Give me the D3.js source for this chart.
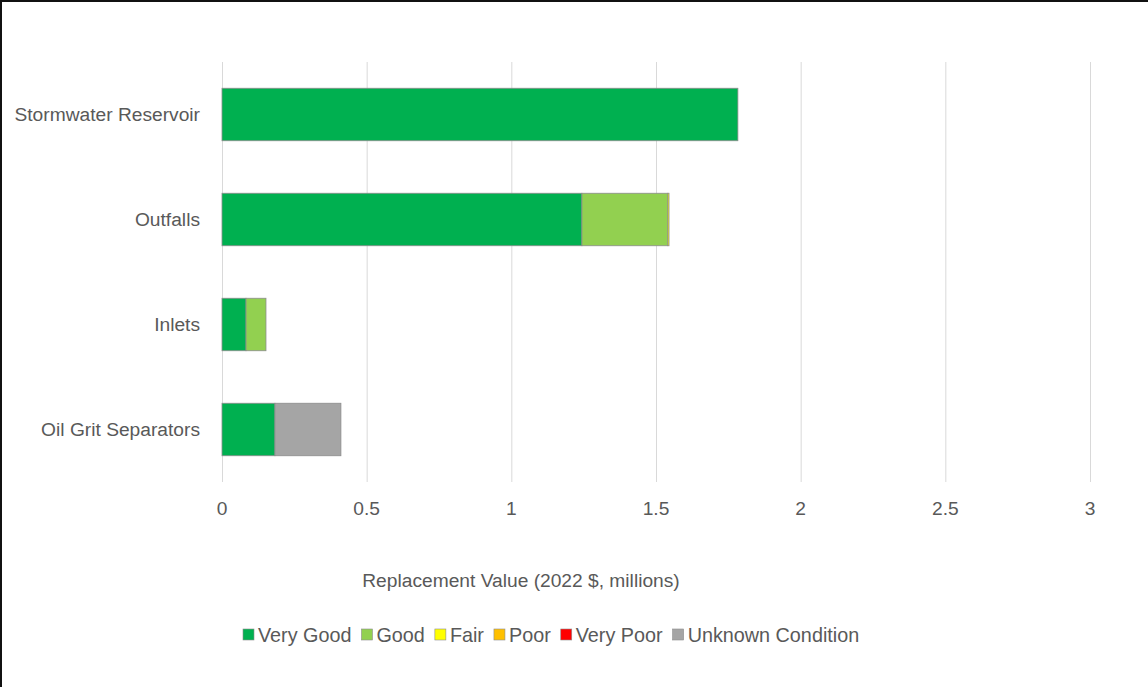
<!DOCTYPE html>
<html>
<head>
<meta charset="utf-8">
<script src="https://cdn.jsdelivr.net/npm/d3@7"></script>
<style>
  html, body { margin: 0; padding: 0; background: #fff; }
  svg { display: block; }
  text { font-family: "Liberation Sans", Arial, sans-serif; fill: #595959; }
</style>
</head>
<body>
<svg id="chart" width="1148" height="687"></svg>
<script>
// Asset categories (top to bottom)
const categories = ["Stormwater Reservoir", "Outfalls", "Inlets", "Oil Grit Separators"];

// Condition classes and their colours
const conditions = ["Very Good", "Good", "Fair", "Poor", "Very Poor", "Unknown Condition"];
const conditionColors = ["#00B050", "#92D050", "#FFFF00", "#FFC000", "#FF0000", "#A5A5A5"];

// Replacement value by condition ($ millions), one entry per category
const veryGood = [1.783, 1.244, 0.083, 0.183];
const good     = [0.000, 0.297, 0.069, 0.000];
const fair     = [0.000, 0.004, 0.000, 0.000];
const poor     = [0.000, 0.000, 0.000, 0.000];
const veryPoor = [0.000, 0.000, 0.000, 0.000];
const unknown  = [0.000, 0.000, 0.000, 0.228];

const xTicks = [0, 0.5, 1, 1.5, 2, 2.5, 3];
const xTickLabels = ["0", "0.5", "1", "1.5", "2", "2.5", "3"];
const xTitle = "Replacement Value (2022 $, millions)";

const seriesValues = [veryGood, good, fair, poor, veryPoor, unknown];
const rows = categories.map((c, i) => {
  const r = { category: c };
  conditions.forEach((k, j) => { r[k] = seriesValues[j][i]; });
  return r;
});

const svg = d3.select("#chart");
const W = 1148, H = 687;
const FS = 19.2;

// Frame lines (top and left)
svg.append("line").attr("x1", 0).attr("x2", W).attr("y1", 1).attr("y2", 1)
  .attr("stroke", "#111").attr("stroke-width", 2);
svg.append("line").attr("x1", 1).attr("x2", 1).attr("y1", 0).attr("y2", H)
  .attr("stroke", "#111").attr("stroke-width", 2);

const plot = { left: 222, right: 1090, top: 62, bottom: 482 };

const x = d3.scaleLinear().domain([0, 3]).range([plot.left, plot.right]);
const y = d3.scaleBand().domain(categories).range([plot.top, plot.bottom]).paddingInner(0.5).paddingOuter(0.25);

// Vertical gridlines
svg.append("g").selectAll("line").data(xTicks).join("line")
  .attr("x1", d => x(d) + 0.5).attr("x2", d => x(d) + 0.5)
  .attr("y1", plot.top).attr("y2", plot.bottom)
  .attr("stroke", "#D9D9D9").attr("stroke-width", 1);

// Stacked bars
const stack = d3.stack().keys(conditions);
const layers = stack(rows);
const color = d3.scaleOrdinal().domain(conditions).range(conditionColors);

svg.append("g").selectAll("g").data(layers).join("g")
  .attr("fill", d => color(d.key))
  .selectAll("rect").data(d => d.filter(p => p[1] - p[0] > 0)).join("rect")
  .attr("x", d => x(d[0]))
  .attr("y", d => y(d.data.category))
  .attr("width", d => Math.max(0.8, x(d[1]) - x(d[0])))
  .attr("height", y.bandwidth())
  .attr("stroke", "#8C8C8C").attr("stroke-width", 0.8);

// Category labels
svg.append("g").selectAll("text").data(categories).join("text")
  .attr("x", 200).attr("y", d => y(d) + y.bandwidth() / 2)
  .attr("text-anchor", "end").attr("dominant-baseline", "central")
  .attr("font-size", FS)
  .text(d => d);

// X axis tick labels
svg.append("g").selectAll("text").data(xTicks).join("text")
  .attr("x", d => x(d)).attr("y", 515)
  .attr("text-anchor", "middle").attr("font-size", FS)
  .text((d, i) => xTickLabels[i]);

// Axis title
svg.append("text").attr("x", 521).attr("y", 587)
  .attr("text-anchor", "middle").attr("font-size", FS)
  .text(xTitle);

// Legend
const legend = svg.append("g");
let lx = 243;
conditions.forEach((k, i) => {
  legend.append("rect").attr("x", lx).attr("y", 629).attr("width", 11).attr("height", 11)
    .attr("fill", conditionColors[i]).attr("stroke", "#8C8C8C").attr("stroke-width", 0.6);
  const t = legend.append("text").attr("x", lx + 15).attr("y", 642)
    .attr("font-size", 19.8).text(k);
  lx += 15 + t.node().getComputedTextLength() + 10;
});
</script>
</body>
</html>
